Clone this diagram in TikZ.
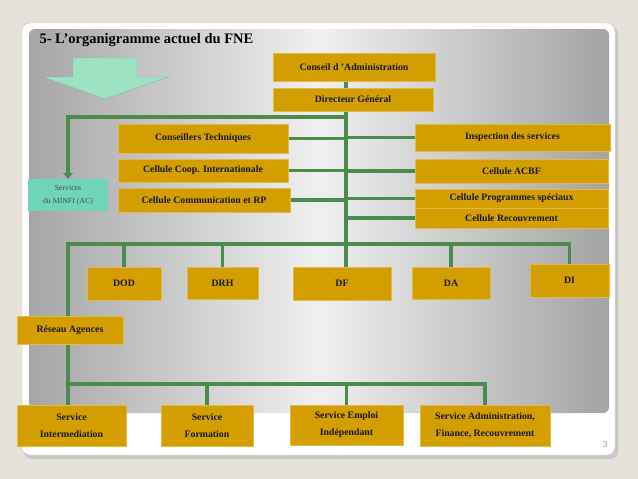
\documentclass[tikz,border=0pt]{standalone}
\usepackage{fontspec}
\setmainfont{Liberation Serif}
\newfontfamily\slidesans{Liberation Sans}
\usepackage{xcolor}
\usepackage{tikz}
\usetikzlibrary{arrows.meta}
\definecolor{sand}{HTML}{E6E1D9}
\definecolor{gold}{HTML}{D29E00}
\definecolor{leaf}{HTML}{4B8B50}
\definecolor{mint}{HTML}{9DE3C3}
\definecolor{lagoon}{HTML}{6FD4B9}
\pgfdeclarelayer{panel}
\pgfdeclarelayer{background}
\pgfsetlayers{panel,background,main}
\tikzset{
	box/.style={fill=gold, draw=gold!70!white, line width=0.5pt, inner sep=1pt, text=black!90, align=center, font=\bfseries\fontsize{9.8}{11}\selectfont},
	twoline/.style={box, font=\bfseries\fontsize{9.8}{17}\selectfont},
	link/.style={draw=leaf, line width=3.6pt},
}

\begin{document}
\begin{tikzpicture}[x=1pt,y=-1pt]
			\useasboundingbox (0,0) rectangle (638,479);
			\begin{pgfonlayer}{panel}
				\fill[sand] (0,0) rectangle (638,479);
				\fill[black!22, rounded corners=8pt] (24,26) rectangle (618,459);
				\fill[white, draw=black!20, rounded corners=8pt] (22,23) rectangle (615,455);
				\shade[rounded corners=6pt, left color=black!35, right color=black!36, middle color=black!6] (29,29) rectangle (609,413);
				% big pale arrow
				\fill[mint, draw=mint!80!black, line width=0.4pt] (73,58) -- (137,58) -- (137,77) -- (168,77) -- (105,99) -- (43,77) -- (73,77) -- cycle;
			\end{pgfonlayer}
			\node[anchor=west, font=\bfseries\fontsize{14.5}{16}\selectfont] (title) at (36,40) {5- L’organigramme actuel du FNE};
			\node[font=\slidesans\fontsize{9}{10}\selectfont, text=black!35] (page) at (605,444) {3};
			% top of the chart
			\node[box, minimum width=162, minimum height=28] (ca) at (354,67) {Conseil d ’Administration};
			\node[box, minimum width=160, minimum height=23] (dg) at (353,99.5) {Directeur Général};
			\node[box, minimum width=170, minimum height=29] (ct) at (203,138.5) {Conseillers Techniques};
			\node[box, minimum width=170, minimum height=23] (cci) at (203,170.5) {Cellule Coop. Internationale};
			\node[box, minimum width=172, minimum height=24] (ccrp) at (204,200) {Cellule Communication et RP};
			\node[fill=lagoon, minimum width=80, minimum height=32, inner sep=1pt, align=center, text=black!70, font=\fontsize{7.8}{12.5}\selectfont] (minfi) at (68,195) {Services\\du MINFI (AC)};
			\node[box, minimum width=195, minimum height=27] (insp) at (512.5,137.5) {Inspection des services};
			\node[box, minimum width=193, minimum height=24] (acbf) at (511.5,171) {Cellule ACBF};
			\node[box, minimum width=193, minimum height=19] (cps) at (511.5,198.5) {Cellule Programmes spéciaux};
			\node[box, minimum width=193, minimum height=20] (crec) at (511.5,218) {Cellule Recouvrement};
			% directions
			\node[box, minimum width=74, minimum height=33] (dod) at (124,283.5) {DOD};
			\node[box, minimum width=71, minimum height=32] (drh) at (222.5,283) {DRH};
			\node[box, minimum width=98, minimum height=33] (df) at (342,283.5) {DF};
			\node[box, minimum width=78, minimum height=32] (da) at (451,283) {DA};
			\node[box, minimum width=79, minimum height=33] (di) at (569.5,280.5) {DI};
			\node[box, minimum width=106, minimum height=28] (ra) at (70,330) {Réseau Agences};
			% services
			\node[twoline, minimum width=109, minimum height=41] (si) at (71.5,425.5) {Service\\Intermediation};
			\node[twoline, minimum width=92, minimum height=41] (sf) at (207,425.5) {Service\\Formation};
			\node[twoline, minimum width=113, minimum height=40] (se) at (346.5,425) {Service Emploi\\Indépendant};
			\node[twoline, minimum width=130, minimum height=41] (sa) at (485,425.5) {Service Administration,\\Finance, Recouvrement};
			\coordinate (trunk) at (346,117);
			\coordinate (left) at (68,244);
			\coordinate (left2) at (68,384);
			\begin{pgfonlayer}{background}
				\draw[link] (ca.south -| trunk) -- (df.north -| trunk);
				\draw[link, -{Triangle[width=10pt,length=6pt]}] (trunk) -| (minfi.north);
				\foreach \n in {ct, cci, ccrp} {
					\draw[link] (\n.east) -- (\n.east -| trunk);
				}
				\foreach \n in {insp, acbf, cps, crec} {
					\draw[link] (\n.west) -- (\n.west -| trunk);
				}
				\draw[link] (di.north) |- (left) -- (si.north -| left);
				\foreach \n in {dod, drh, da} {
					\draw[link] (\n.north) -- (\n.north |- left);
				}
				\draw[link] (left2) -| (sa.north);
				\foreach \n in {sf, se} {
					\draw[link] (\n.north) -- (\n.north |- left2);
				}
			\end{pgfonlayer}
		\end{tikzpicture}
\end{document}
